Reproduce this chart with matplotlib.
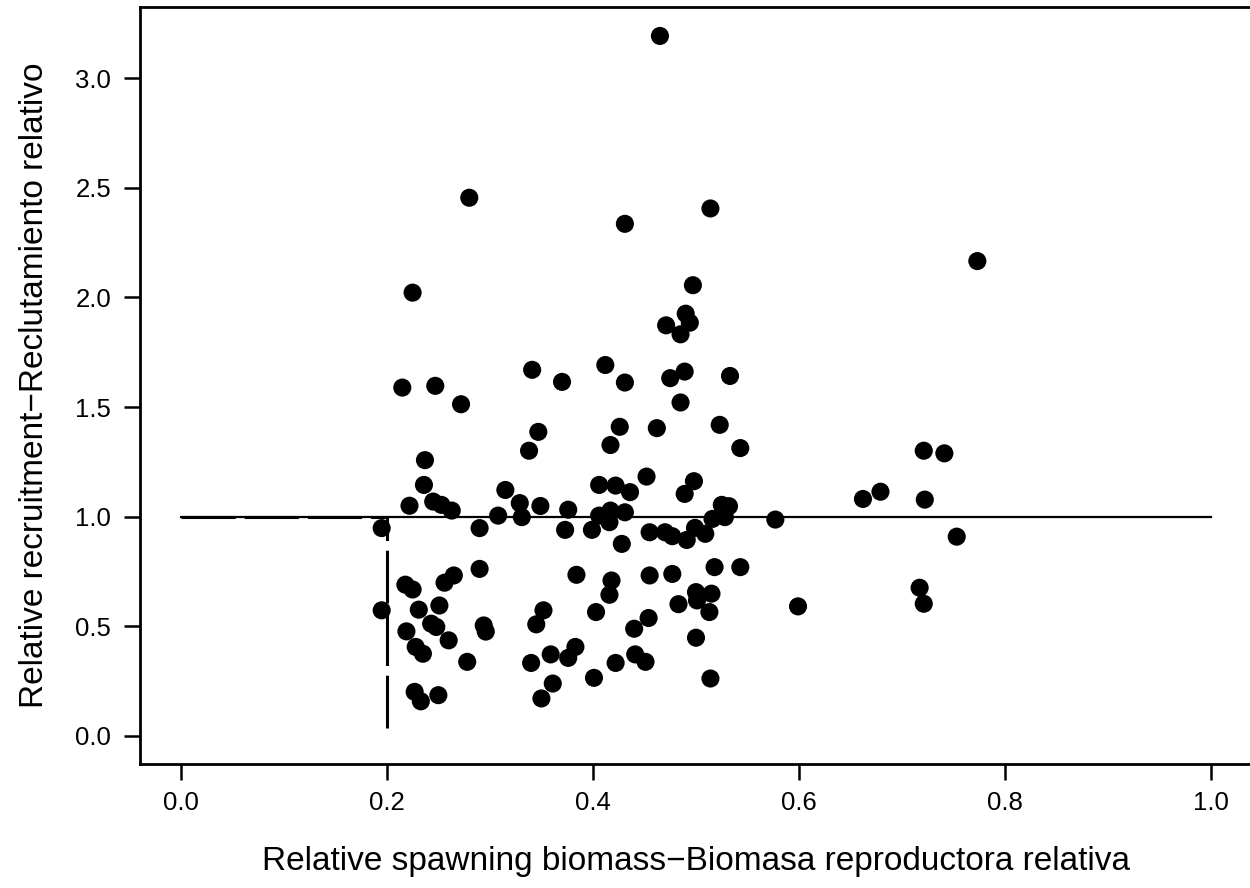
import matplotlib
matplotlib.use("Agg")
import matplotlib.pyplot as plt

plt.rcParams['font.family'] = ['Liberation Sans', 'DejaVu Sans']
plt.rcParams['lines.scale_dashes'] = False

# relative spawning biomass (x) and relative recruitment (y)
ssb = [0.236, 0.222, 0.245, 0.253, 0.263, 0.195, 0.290, 0.290, 0.218, 0.225,
       0.256, 0.265, 0.195, 0.231, 0.251, 0.219, 0.243, 0.248, 0.260, 0.294,
       0.296, 0.228, 0.235, 0.278, 0.227, 0.233, 0.250, 0.341, 0.370, 0.215,
       0.247, 0.272, 0.347, 0.338, 0.237, 0.315, 0.329, 0.349, 0.376, 0.308,
       0.331, 0.373, 0.384, 0.352, 0.345, 0.340, 0.359, 0.376, 0.383, 0.361,
       0.350, 0.225, 0.471, 0.412, 0.431, 0.475, 0.485, 0.426, 0.417, 0.462,
       0.452, 0.406, 0.422, 0.436, 0.489, 0.399, 0.406, 0.417, 0.416, 0.431,
       0.428, 0.455, 0.470, 0.477, 0.418, 0.416, 0.455, 0.477, 0.483, 0.403,
       0.454, 0.440, 0.422, 0.441, 0.451, 0.401, 0.523, 0.543, 0.498, 0.525,
       0.532, 0.516, 0.528, 0.577, 0.662, 0.679, 0.721, 0.741, 0.722, 0.753,
       0.491, 0.499, 0.509, 0.518, 0.543, 0.500, 0.501, 0.515, 0.513, 0.599,
       0.717, 0.721, 0.500, 0.514, 0.514, 0.431, 0.773, 0.497, 0.490, 0.494,
       0.485, 0.489, 0.533, 0.465, 0.280]
rec = [1.145, 1.050, 1.069, 1.054, 1.028, 0.948, 0.948, 0.762, 0.690, 0.668,
       0.699, 0.732, 0.573, 0.576, 0.595, 0.477, 0.512, 0.497, 0.436, 0.504,
       0.476, 0.406, 0.375, 0.338, 0.201, 0.158, 0.186, 1.670, 1.615, 1.589,
       1.597, 1.513, 1.387, 1.301, 1.258, 1.122, 1.062, 1.049, 1.032, 1.005,
       0.998, 0.940, 0.735, 0.573, 0.509, 0.333, 0.372, 0.356, 0.406, 0.239,
       0.171, 2.022, 1.873, 1.692, 1.612, 1.632, 1.521, 1.410, 1.327, 1.404,
       1.183, 1.145, 1.142, 1.112, 1.104, 0.940, 1.005, 1.028, 0.975, 1.020,
       0.876, 0.929, 0.929, 0.911, 0.709, 0.644, 0.732, 0.739, 0.601, 0.565,
       0.538, 0.489, 0.333, 0.372, 0.338, 0.265, 1.419, 1.313, 1.162, 1.054,
       1.048, 0.990, 0.998, 0.987, 1.081, 1.114, 1.301, 1.289, 1.078, 0.909,
       0.894, 0.949, 0.922, 0.770, 0.770, 0.656, 0.618, 0.649, 0.565, 0.591,
       0.676, 0.603, 0.448, 0.262, 2.406, 2.336, 2.166, 2.056, 1.926, 1.885,
       1.832, 1.662, 1.642, 3.193, 2.455]

xticks = [0.0, 0.2, 0.4, 0.6, 0.8, 1.0]
yticks = [0.0, 0.5, 1.0, 1.5, 2.0, 2.5, 3.0]

fig = plt.figure(figsize=(12.5, 8.88), dpi=100)
ax = fig.add_axes([139.5 / 1250, 124 / 888, 1113 / 1250, 757 / 888])

# reference lines: R/Rbar = 1 and 20% biomass limit
ax.plot([0, 1], [1, 1], color='black', lw=1.6, zorder=1)
ax.plot([0, 0.2], [1, 1], color='black', lw=2.2, dashes=(39, 6.5), zorder=1)
ax.plot([0.2, 0.2], [0.035, 1], color='black', lw=2.2, dashes=(38, 7), zorder=1)

ax.scatter(ssb, rec, s=170, color='black', edgecolors='none', zorder=3)

ax.set_xlim(-0.04, 1.04)
ax.set_ylim(-0.128, 3.325)
ax.set_xticks(xticks)
ax.set_yticks(yticks)
ax.set_xticklabels(['%.1f' % t for t in xticks])
ax.set_yticklabels(['%.1f' % t for t in yticks])
ax.tick_params(direction='out', length=11.5, width=1.8, labelsize=18.5, pad=8)
ax.tick_params(axis='y', pad=9)
for sp in ax.spines.values():
    sp.set_linewidth(2)

ax.set_xlabel('Relative spawning biomass\u2212Biomasa reproductora relativa',
              fontsize=24, labelpad=22)
ax.set_ylabel('Relative recruitment\u2212Reclutamiento relativo',
              fontsize=24, labelpad=18)

fig.savefig('out.png', dpi=100)
